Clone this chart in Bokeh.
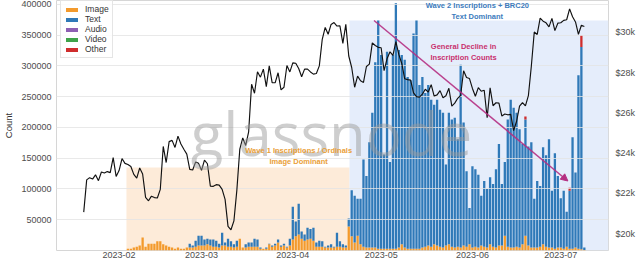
import pandas as pd
from bokeh.plotting import figure
from bokeh.models import (Range1d, LinearAxis, FixedTicker, NumeralTickFormatter, BasicTickFormatter,
                          DatetimeTickFormatter, BoxAnnotation, Label, Arrow, NormalHead, Legend,
                          LegendItem, ColumnDataSource)
from bokeh.embed import file_html
from bokeh.resources import INLINE

# ---------------- data ----------------
bar_start = "2023-02-04"   # first daily bar
# daily inscription counts, thousands
image_k = [
    3, 3, 5, 6, 8, 21, 6, 11, 11, 11, 15, 15, 10, 8, 6, 5, 3, 5, 3, 3, 5,
    5, 5, 6, 8, 8, 8, 10, 8, 6, 6,
    5, 8, 8, 6, 6, 5, 6, 19, 5, 5,
    6, 6, 6, 6, 3, 3, 3, 10, 6, 8,
    13, 6, 8, 5, 8, 18, 23, 26, 19, 16,
    18, 19, 16, 6, 6, 6, 5, 5, 5, 5,
    6, 6, 5, 5, 39, 23, 13, 24, 10, 6,
    5, 5, 5, 5, 3, 3, 3, 3, 3, 3,
    3, 5, 10, 5, 3, 3, 3, 3, 3, 5,
    6, 8, 6, 10, 8, 6, 5, 8, 10, 6,
    5, 6, 5, 8, 6, 10, 5, 6, 5, 8,
    6, 5, 10, 6, 5, 8, 8, 24, 6, 5,
    5, 6, 5, 10, 24, 8, 5, 5, 5, 6,
    10, 6, 5, 5, 3, 5, 5, 3, 6, 3,
    3, 5, 3, 2, 1]
text_k = [
    0, 0, 0, 0, 0, 0, 0, 0, 0, 0, 0, 0, 0, 0, 0, 0, 0, 0, 0, 0, 0,
    6, 3, 10, 16, 16, 10, 9, 10, 12, 10,
    6, 21, 5, 13, 9, 5, 10, 0, 0, 5,
    7, 7, 13, 12, 2, 0, 2, 1, 2, 3,
    5, 2, 3, 1, 11, 53, 24, 50, 12, 10,
    19, 16, 21, 7, 10, 9, 1, 3, 5, 1,
    23, 9, 5, 3, 13, 75, 76, 60, 74, 142,
    116, 171, 219, 301, 371, 315, 153, 320, 141, 315,
    399, 321, 308, 305, 279, 274, 350, 371, 266, 277,
    250, 261, 239, 227, 237, 223, 219, 132, 214, 207,
    211, 175, 297, 200, 123, 59, 132, 126, 118, 81,
    107, 95, 109, 102, 127, 165, 100, 120, 207, 240,
    227, 218, 192, 163, 189, 161, 171, 79, 108, 99,
    158, 149, 176, 92, 155, 116, 80, 94, 57, 94,
    181, 122, 282, 329, 4]
other_k = {"2023-06-19": 5, "2023-07-04": 5, "2023-07-08": 19}   # all other days 0
audio_k = {}   # not visible
video_k = {}   # not visible

price_start = "2023-01-20"
price_usd = [
    # Jan 20-31
    21070, 22670, 22780, 22710, 22920, 22630, 23060, 23010, 23080, 23030, 23770, 22840,
    # Feb
    23130, 23730, 23490, 23430, 23330, 22940, 22760, 23260, 22960, 21800, 21630, 21860,
    21790, 21770, 22200, 24330, 23530, 24570, 24630, 24280, 24840, 24450, 24190, 23950,
    23190, 23160, 23560, 23490,
    # Mar
    23140, 23650, 23470, 22360, 22350, 22430, 22410, 22200, 21700, 20360, 20190, 20630,
    22160, 24200, 24750, 24380, 25050, 27420, 26970, 28040, 27770, 28170, 27300, 28330,
    27490, 27490, 27990, 27140, 27270, 28350, 28030,
    # Apr
    28480, 28460, 28200, 27790, 28170, 28170, 28030, 27920, 27950, 28330, 29650, 30240,
    29900, 30390, 30480, 30310, 30320, 29450, 30390, 28820, 28250, 27270, 27820, 27590,
    27510, 28300, 28420, 29470, 29340, 29250,
    # May
    29230, 28090, 28680, 29030, 28850, 29530, 28900, 28450, 27690, 27650, 27620, 26990,
    26800, 26780, 26930, 27170, 27030, 27400, 26830, 26890, 27100, 26750, 26850, 27220,
    26330, 26480, 26720, 26870, 28090, 27750, 27700,
    # Jun
    27210, 26820, 27250, 27070, 27120, 25760, 27240, 26350, 26500, 26480, 25840, 25940,
    25900, 25920, 25120, 25580, 26330, 26510, 26340, 26850, 28310, 30010, 29890, 30700,
    30550, 30470, 30270, 30690, 30080, 30450,
    # Jul 1-9
    30470, 30590, 30620, 31160, 30770, 30510, 29900, 30350, 30290]

series_names = ["Image", "Text", "Audio", "Video", "Other"]
count_ticks = [50000, 100000, 150000, 200000, 250000, 300000, 350000, 400000]
price_ticks = [20000, 22000, 24000, 26000, 28000, 30000]
month_ticks = ["2023-02-01", "2023-03-01", "2023-04-01", "2023-05-01", "2023-06-01", "2023-07-01"]

wave1 = ("2023-02-03 12:00", "2023-04-20 06:00", 135000)
wave2 = ("2023-04-20 06:00", "2023-07-17 05:00", 374000)
wave1_text = ("Wave 1 Inscriptions / Ordinals\nImage Dominant", "2023-04-03 00:00", 154000)
wave2_text = ("Wave 2 Inscriptions + BRC20\nText Dominant", "2023-06-02 16:00", 389000)
decline_text = ("General Decline in\nInscription Counts", "2023-05-29 00:00", 323000)
decline_arrow = (("2023-04-28 14:00", 374000), ("2023-07-03 10:00", 113000))

# ---------------- helpers ----------------
def ms(s):
    return pd.Timestamp(s).value / 1e6

dates = pd.date_range(bar_start, periods=len(image_k), freq="D")
keys = [d.strftime("%Y-%m-%d") for d in dates]
src = ColumnDataSource(dict(
    date=dates,
    Image=[v * 1000 for v in image_k],
    Text=[v * 1000 for v in text_k],
    Audio=[audio_k.get(k, 0) * 1000 for k in keys],
    Video=[video_k.get(k, 0) * 1000 for k in keys],
    Other=[other_k.get(k, 0) * 1000 for k in keys],
))
pdates = pd.date_range(price_start, periods=len(price_usd), freq="D")

FONT = "Liberation Sans"
TICK_C = "#4d4d4d"

p = figure(width=640, height=260, x_axis_type="datetime",
           x_range=Range1d(ms("2023-01-10 18:00"), ms("2023-07-17 05:00")),
           y_range=Range1d(0, 406460),
           output_backend="svg", toolbar_location=None,
           min_border_left=52, min_border_right=32, min_border_top=0, min_border_bottom=0)
p.extra_y_ranges = {"price": Range1d(19162, 31577)}
p.background_fill_color = "white"
p.border_fill_color = "white"
p.outline_line_color = "#d6d6d6"

# shaded waves
p.add_layout(BoxAnnotation(left=ms(wave1[0]), right=ms(wave1[1]), bottom=0, top=wave1[2],
                           fill_color="#fde6d0", fill_alpha=0.8, line_color=None, level="underlay"))
p.add_layout(BoxAnnotation(left=ms(wave2[0]), right=ms(wave2[1]), bottom=0, top=wave2[2],
                           fill_color="#dfe8fa", fill_alpha=0.8, line_color=None, level="underlay"))

colors = ["#f39a2c", "#2f79b8", "#8e5fb3", "#3fa34a", "#cf2d2d"]
rs = p.vbar_stack(series_names, x="date", width=0.78 * 86400000, color=colors,
                  line_color=None, source=src)

pl = p.line(pdates, price_usd, y_range_name="price", color="#111111", line_width=1.15)
pl.level = "annotation"

# axes
ya = p.yaxis[0]
ya.ticker = FixedTicker(ticks=count_ticks)
ya.formatter = BasicTickFormatter(use_scientific=False)
ya.axis_label = "Count"
ya.axis_label_text_font = FONT
ya.axis_label_text_font_size = "9.5px"
ya.axis_label_text_font_style = "normal"
ya.axis_label_text_color = "#333333"
ya.axis_label_standoff = 4

ra = LinearAxis(y_range_name="price", ticker=FixedTicker(ticks=price_ticks),
                formatter=NumeralTickFormatter(format="$0a"))
p.add_layout(ra, "right")

xa = p.xaxis[0]
xa.ticker = FixedTicker(ticks=[ms(m) for m in month_ticks])
xa.formatter = DatetimeTickFormatter(months="%Y-%m", days="%Y-%m", hours="%Y-%m",
                                     years="%Y-%m")

for ax in (ya, ra, xa):
    ax.axis_line_color = None
    ax.major_tick_line_color = None
    ax.minor_tick_line_color = None
    ax.major_tick_out = 0
    ax.major_tick_in = 0
    ax.major_label_text_font = FONT
    ax.major_label_text_font_size = "9px"
    ax.major_label_text_color = TICK_C
ya.major_label_standoff = 5
ra.major_label_standoff = 7
xa.major_label_standoff = 1

p.xgrid.visible = False
p.ygrid.ticker = FixedTicker(ticks=count_ticks)
p.ygrid.grid_line_color = "#e4e4e4"
p.ygrid.grid_line_alpha = 0.8
p.ygrid.level = "guide"

# watermark
p.add_layout(Label(x=275, y=118, x_units="screen", y_units="screen", text="glassnode",
                   text_font="Open Sans", text_font_size="60px", text_color="#999999",
                   text_alpha=0.48, text_align="center", text_baseline="middle"))

# annotations
def note(spec, color):
    txt, x, y = spec
    p.add_layout(Label(x=ms(x), y=y, text=txt, text_align="center", text_baseline="middle",
                       text_font=FONT, text_font_size="7.5px", text_font_style="bold",
                       text_color=color, text_line_height=1.2))

note(wave1_text, "#eaa038")
note(wave2_text, "#3c7cbd")
note(decline_text, "#c8306e")

arrow_c = "#b52f82"
(xs, ys), (xe, ye) = decline_arrow
p.add_layout(Arrow(end=NormalHead(size=7, fill_color=arrow_c, line_color=arrow_c),
                   x_start=ms(xs), y_start=ys, x_end=ms(xe), y_end=ye,
                   line_color=arrow_c, line_width=1.5, line_alpha=0.9))

# legend
legend = Legend(items=[LegendItem(label=n, renderers=[r]) for n, r in zip(series_names, rs)],
                location=(4, 192), orientation="vertical",
                label_text_font=FONT, label_text_font_size="8.5px", label_text_color="#333333",
                glyph_width=15, glyph_height=5, label_height=10, label_standoff=6,
                spacing=0, padding=3, margin=0,
                border_line_color="#cccccc", border_line_width=1,
                background_fill_color="white", background_fill_alpha=0.85)
p.add_layout(legend)

open("out.html", "w").write(file_html(p, INLINE))
